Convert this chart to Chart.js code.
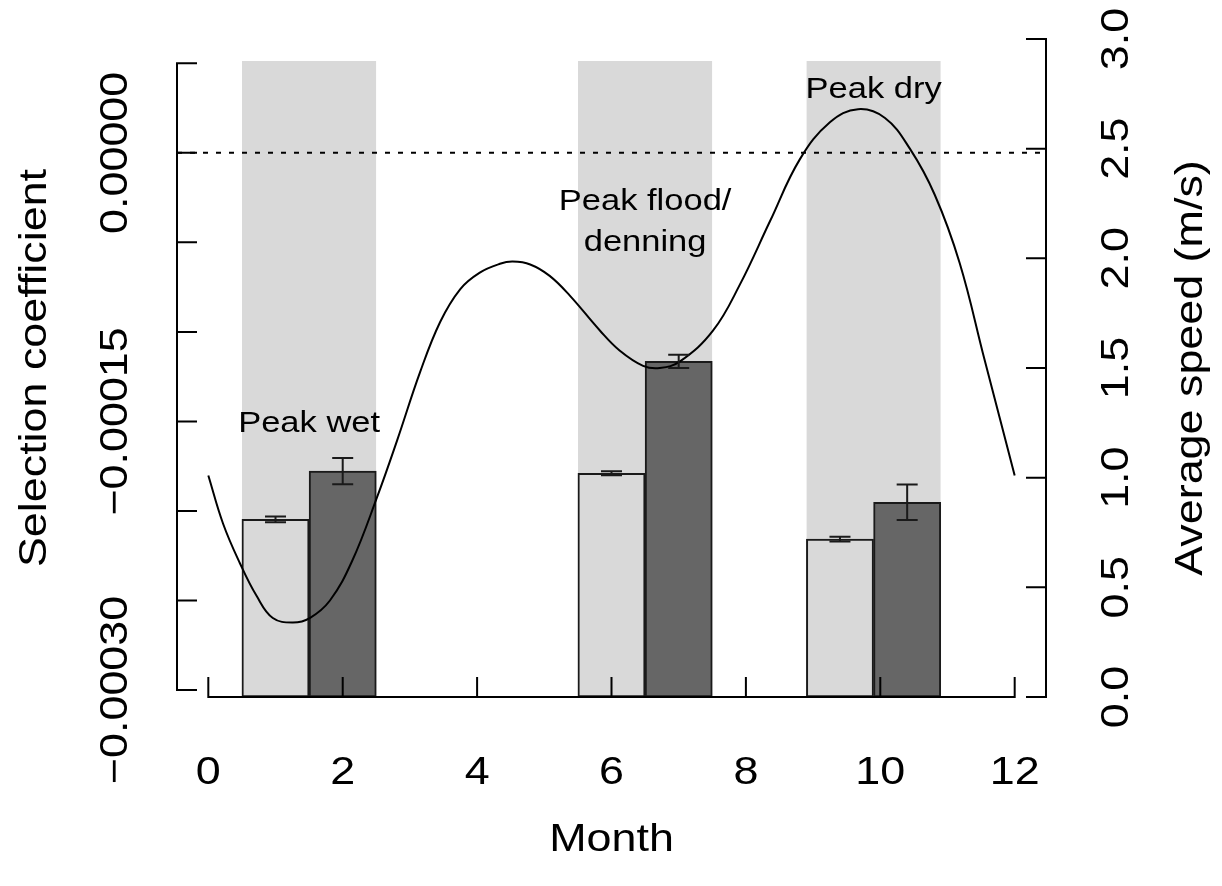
<!DOCTYPE html>
<html>
<head>
<meta charset="utf-8">
<script src="https://cdn.jsdelivr.net/npm/chart.js@4.4.1/dist/chart.umd.min.js"></script>
<style>
html,body{margin:0;padding:0;background:#ffffff;}
#wrap{width:1222px;height:886px;position:relative;}
</style>
</head>
<body>
<div id="wrap"><canvas id="c" width="1222" height="886"></canvas></div>
<script>
// ---------------- data ----------------
const barMonths = [1, 2, 6, 7, 9.4, 10.4];
const barSpeeds = [0.81, 1.03, 1.02, 1.53, 0.72, 0.888];
const barErrors = [0.013, 0.06, 0.009, 0.03, 0.011, 0.081];
const barKinds  = ['light', 'dark', 'light', 'dark', 'light', 'dark'];

const bandStart = [0.5, 5.5, 8.9];
const bandEnd   = [2.5, 7.5, 10.9];
const bandTop   = [2.9, 2.9, 2.9];

const curveMonths = [0.00, 0.22, 0.47, 0.72, 0.96, 1.26, 1.51, 1.81, 2.14, 2.51, 2.81, 3.15, 3.45, 3.75, 4.04, 4.34, 4.53, 4.79, 5.08, 5.38, 5.83, 6.12, 6.47, 6.72, 7.02, 7.51, 7.91, 8.36, 8.80, 9.25, 9.67, 10.07, 10.44, 10.81, 11.18, 11.55, 12.00];
const curveSpeeds = [1.01, 0.79, 0.61, 0.46, 0.36, 0.34, 0.36, 0.44, 0.62, 0.91, 1.17, 1.48, 1.71, 1.86, 1.935, 1.975, 1.985, 1.972, 1.92, 1.83, 1.67, 1.58, 1.51, 1.50, 1.53, 1.67, 1.88, 2.17, 2.45, 2.62, 2.68, 2.64, 2.50, 2.29, 1.98, 1.54, 1.01];

const refLineValue = [0];   // selection coefficient reference (dotted)

const xTicks = [0, 2, 4, 6, 8, 10, 12];
const xTickLabels = ['0', '2', '4', '6', '8', '10', '12'];
const leftTicks = [-0.0003, -0.00025, -0.0002, -0.00015, -0.0001, -0.00005, 0, 0.00005];
const leftLabelTicks = [-0.0003, -0.00015, 0];
const leftLabels = ['\u22120.00030', '\u22120.00015', '0.00000'];
const rightTicks = [0, 0.5, 1, 1.5, 2, 2.5, 3];
const rightLabels = ['0.0', '0.5', '1.0', '1.5', '2.0', '2.5', '3.0'];

const noteLines  = [['Peak wet'], ['Peak flood/', 'denning'], ['Peak dry']];
const noteMonths = [1.5, 6.5, 9.9];
const noteSpeeds = [1.208, 2.22, 2.731];

const xTitle = 'Month';
const yLeftTitle = 'Selection coefficient';
const yRightTitle = 'Average speed (m/s)';

// ---------------- styling / axis config ----------------
const X_MIN = -0.466, X_MAX = 12.466;
const YL_MIN = -0.00030391, YL_MAX = 0.00006357;
const YR_MIN = 0, YR_MAX = 3.0;
const SX = 1.15;           // glyph widening along the text direction
const FS_AXIS = 39, FS_NOTE = 30;
const FONT = '"Liberation Sans", Arial, Helvetica, sans-serif';
const TICK = 20;

function drawText(ctx, s, x, y, size, rot, align, base) {
  ctx.save();
  ctx.translate(x, y);
  if (rot) ctx.rotate(rot);
  ctx.scale(SX, 1);
  ctx.font = size + 'px ' + FONT;
  ctx.textAlign = align || 'center';
  ctx.textBaseline = base || 'alphabetic';
  ctx.fillStyle = '#000000';
  ctx.fillText(s, 0, 0);
  ctx.restore();
}

const datasets = [];
bandStart.forEach((s, i) => {
  datasets.push({
    type: 'line', xAxisID: 'x', yAxisID: 'yR',
    data: [{x: s, y: bandTop[i]}, {x: bandEnd[i], y: bandTop[i]}],
    fill: 'origin', backgroundColor: '#d9d9d9', borderWidth: 0, borderColor: 'rgba(0,0,0,0)',
    pointRadius: 0, order: 5
  });
});
datasets.push({
  type: 'bar', xAxisID: 'x', yAxisID: 'yR',
  data: barMonths.map((m, i) => ({x: m, y: barSpeeds[i]})),
  backgroundColor: barKinds.map(k => k === 'dark' ? '#666666' : '#d9d9d9'),
  borderColor: '#1a1a1a', borderWidth: 2, borderSkipped: false,
  categoryPercentage: 1.0, barPercentage: 1.0, order: 3
});
datasets.push({
  type: 'line', xAxisID: 'x', yAxisID: 'yL',
  data: [{x: X_MIN, y: refLineValue[0]}, {x: X_MAX, y: refLineValue[0]}],
  borderColor: '#000000', borderWidth: 2, borderDash: [5, 8], pointRadius: 0, fill: false, order: 2
});
datasets.push({
  type: 'line', xAxisID: 'x', yAxisID: 'yR',
  data: curveMonths.map((m, i) => ({x: m, y: curveSpeeds[i]})),
  borderColor: '#000000', borderWidth: 2, pointRadius: 0, fill: false,
  tension: 0.4, order: 1
});

const rPlot = {
  id: 'rPlot',
  afterDatasetsDraw(chart) {
    const ctx = chart.ctx;
    const xs = chart.scales.x, yr = chart.scales.yR;
    ctx.save();
    ctx.strokeStyle = '#1a1a1a';
    ctx.lineWidth = 2;
    barMonths.forEach((m, i) => {
      const px = xs.getPixelForValue(m);
      const y1 = yr.getPixelForValue(barSpeeds[i] - barErrors[i]);
      const y2 = yr.getPixelForValue(barSpeeds[i] + barErrors[i]);
      ctx.beginPath();
      ctx.moveTo(px, y1); ctx.lineTo(px, y2);
      ctx.moveTo(px - 10.5, y1); ctx.lineTo(px + 10.5, y1);
      ctx.moveTo(px - 10.5, y2); ctx.lineTo(px + 10.5, y2);
      ctx.stroke();
    });
    ctx.restore();
  },
  afterDraw(chart) {
    const ctx = chart.ctx;
    const a = chart.chartArea;
    const xs = chart.scales.x, yl = chart.scales.yL, yr = chart.scales.yR;
    ctx.save();
    ctx.strokeStyle = '#000000';
    ctx.lineWidth = 2;
    ctx.lineCap = 'butt';
    // x axis
    const yb = a.bottom;
    ctx.beginPath();
    ctx.moveTo(xs.getPixelForValue(xTicks[0]) - 1, yb);
    ctx.lineTo(xs.getPixelForValue(xTicks[xTicks.length - 1]) + 1, yb);
    xTicks.forEach(v => {
      const px = xs.getPixelForValue(v);
      ctx.moveTo(px, yb); ctx.lineTo(px, yb - TICK);
    });
    ctx.stroke();
    xTicks.forEach((v, i) => drawText(ctx, xTickLabels[i], xs.getPixelForValue(v), 784, FS_AXIS, 0, 'center', 'alphabetic'));
    // left axis
    const xl = a.left;
    ctx.beginPath();
    ctx.moveTo(xl, yl.getPixelForValue(leftTicks[0]) + 1);
    ctx.lineTo(xl, yl.getPixelForValue(leftTicks[leftTicks.length - 1]) - 1);
    leftTicks.forEach(v => {
      const py = yl.getPixelForValue(v);
      ctx.moveTo(xl, py); ctx.lineTo(xl + TICK, py);
    });
    ctx.stroke();
    leftLabelTicks.forEach((v, i) => drawText(ctx, leftLabels[i], 127, yl.getPixelForValue(v), FS_AXIS, -Math.PI / 2, 'center', 'alphabetic'));
    // right axis
    const xr = a.right;
    ctx.beginPath();
    ctx.moveTo(xr, yr.getPixelForValue(rightTicks[0]) + 1);
    ctx.lineTo(xr, yr.getPixelForValue(rightTicks[rightTicks.length - 1]) - 1);
    rightTicks.forEach(v => {
      const py = yr.getPixelForValue(v);
      ctx.moveTo(xr, py); ctx.lineTo(xr - TICK, py);
    });
    ctx.stroke();
    rightTicks.forEach((v, i) => drawText(ctx, rightLabels[i], 1128, yr.getPixelForValue(v), FS_AXIS, -Math.PI / 2, 'center', 'alphabetic'));
    ctx.restore();
    // titles
    const cy = (a.top + a.bottom) / 2;
    drawText(ctx, xTitle, (a.left + a.right) / 2, 851, FS_AXIS, 0, 'center', 'alphabetic');
    drawText(ctx, yLeftTitle, 46, cy, FS_AXIS, -Math.PI / 2, 'center', 'alphabetic');
    drawText(ctx, yRightTitle, 1202, cy, FS_AXIS, -Math.PI / 2, 'center', 'alphabetic');
    // annotations
    noteLines.forEach((lines, i) => {
      const px = xs.getPixelForValue(noteMonths[i]);
      const py = yr.getPixelForValue(noteSpeeds[i]);
      lines.forEach((s, j) => drawText(ctx, s, px, py + j * 41, FS_NOTE, 0, 'center', 'alphabetic'));
    });
  }
};

new Chart(document.getElementById('c'), {
  type: 'bar',
  data: { datasets: datasets },
  options: {
    responsive: false,
    animation: false,
    devicePixelRatio: 1,
    layout: { padding: { left: 177, right: 176, top: 39, bottom: 189 } },
    plugins: { legend: { display: false }, tooltip: { enabled: false }, title: { display: false } },
    scales: {
      x: {
        type: 'linear', min: X_MIN, max: X_MAX, offset: false, display: false,
        afterBuildTicks: (s) => { s.ticks = xTicks.map(v => ({value: v})); }
      },
      yL: {
        type: 'linear', position: 'left', min: YL_MIN, max: YL_MAX, display: false,
        afterBuildTicks: (s) => { s.ticks = leftTicks.map(v => ({value: v})); }
      },
      yR: {
        type: 'linear', position: 'right', min: YR_MIN, max: YR_MAX, display: false,
        afterBuildTicks: (s) => { s.ticks = rightTicks.map(v => ({value: v})); }
      }
    }
  },
  plugins: [rPlot]
});
</script>
</body>
</html>
